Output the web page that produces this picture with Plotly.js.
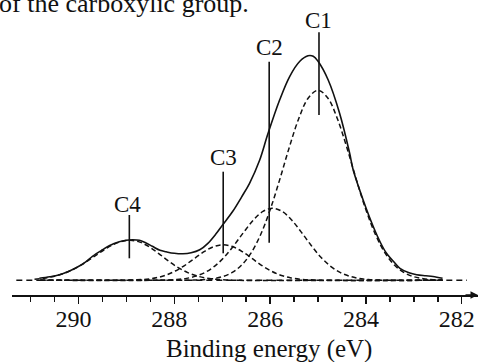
<!DOCTYPE html>
<html>
<head>
<meta charset="utf-8">
<script src="https://cdn.plot.ly/plotly-3.0.1.min.js"></script>
<style>
html,body{margin:0;padding:0;background:#fff;overflow:hidden;}
#chart{width:478px;height:362px;}
</style>
</head>
<body>
<div id="chart"></div>
<script>
// ---- data (binding energy in eV, intensity in arbitrary units) ----
const energyEnvelope = [290.82, 290.60, 290.40, 290.20, 290.05, 289.85, 289.71, 289.50, 289.36, 289.15, 289.01, 288.87, 288.73, 288.60, 288.46, 288.30, 288.17, 288.00, 287.82, 287.65, 287.47, 287.30, 287.13, 286.99, 286.78, 286.60, 286.43, 286.22, 286.05, 285.80, 285.59, 285.38, 285.21, 285.10, 285.00, 284.79, 284.55, 284.34, 284.27, 284.06, 283.85, 283.70, 283.57, 283.40, 283.29, 283.10, 282.94, 282.75, 282.60, 282.40];
const intensityEnvelope = [2, 3.5, 5.5, 9, 12.5, 18.5, 24, 30.5, 34.5, 38.5, 40, 40.5, 40, 37.5, 34, 30, 28.5, 27, 26.5, 27.5, 30.5, 37, 46.5, 55.5, 69, 83, 97, 120, 146, 180.5, 204, 219, 224.5, 224, 219, 200.5, 167, 127, 111, 80.5, 54, 38, 27, 17.5, 12, 7.5, 5.5, 4.5, 3.8, 2];

const energyC1 = [290.8, 288.0, 287.8, 287.6, 287.4, 287.2, 287.0, 286.8, 286.6, 286.4, 286.2, 286.0, 285.8, 285.6, 285.4, 285.2, 285.0, 284.8, 284.6, 284.4, 284.2, 284.0, 283.8, 283.6, 283.4, 283.2, 283.0, 282.8, 282.6, 282.4];
const intensityC1 = [0, 0, 0.1, 0.2, 0.6, 1.6, 3.6, 7.6, 15.0, 27.2, 45.6, 70.5, 100.7, 133, 162.1, 182.6, 190, 182.6, 162.1, 133, 100.7, 70.5, 45.6, 27.2, 15.0, 7.6, 3.6, 1.6, 0.6, 0.2];

const energyC2 = [290.8, 288.35, 288.15, 287.95, 287.75, 287.55, 287.35, 287.15, 286.95, 286.75, 286.55, 286.35, 286.15, 285.95, 285.75, 285.55, 285.35, 285.15, 284.95, 284.75, 284.55, 284.35, 284.15, 283.95, 283.75, 283.55, 282.4];
const intensityC2 = [0, 0, 0.3, 0.8, 1.9, 4.2, 8.1, 14.5, 23.6, 35.3, 48.2, 60.2, 68.9, 72, 68.9, 60.2, 48.2, 35.3, 23.6, 14.5, 8.1, 4.2, 1.9, 0.8, 0.3, 0, 0];

const energyC3 = [290.8, 289.18, 288.98, 288.78, 288.58, 288.38, 288.18, 287.98, 287.78, 287.58, 287.38, 287.18, 286.98, 286.78, 286.58, 286.38, 286.18, 285.98, 285.78, 285.58, 285.38, 285.18, 284.98, 284.78, 282.4];
const intensityC3 = [0, 0, 0.2, 0.5, 1.1, 2.5, 5.1, 9.3, 15.0, 21.9, 28.6, 33.6, 35.5, 33.6, 28.6, 21.9, 15.0, 9.3, 5.1, 2.5, 1.1, 0.5, 0.2, 0, 0];

const energyC4 = [290.92, 290.72, 290.52, 290.32, 290.12, 289.92, 289.72, 289.52, 289.32, 289.12, 288.92, 288.72, 288.52, 288.32, 288.12, 287.92, 287.72, 287.52, 287.32, 287.12, 286.92, 286.72, 282.4];
const intensityC4 = [1.0, 2.1, 3.9, 6.7, 10.7, 16.0, 22.3, 28.8, 34.6, 38.6, 40, 38.2, 33.3, 26.5, 19.2, 12.7, 7.7, 4.2, 2.1, 1.0, 0.4, 0, 0];

const baselineEnergy = [291.30, 281.89];
const baselineIntensity = [0, 0];

const peakNames = ['C1', 'C2', 'C3', 'C4'];
const peakEnergy = [284.98, 286.02, 286.98, 288.94];
const markerTop = [248, 218.6, 108.6, 65.3];
const markerBottom = [165.3, 37.6, 27, 22];
const labelEnergy = [285.00, 286.02, 286.97, 288.98];
const labelIntensity = [260.3, 232.8, 122.8, 76.3];

const tickValues = [290, 288, 286, 284, 282];
const tickLabels = ['290', '288', '286', '284', '282'];
const xTitle = 'Binding energy (eV)';
const topText = 'of the carboxylic group.';

// ---- styling ----
const INK = '#111111';
const SERIF = 'Liberation Serif, Tinos, Times New Roman, DejaVu Serif, Noto Serif, serif';
const dashComp = '5px,3px';

function dashed(x, y, dash) {
  return {x: x, y: y, type: 'scatter', mode: 'lines', hoverinfo: 'skip',
    line: {color: INK, width: 1.5, dash: dash, shape: 'spline', smoothing: 1}};
}

const markerX = [], markerY = [];
for (let i = 0; i < peakEnergy.length; i++) {
  markerX.push(peakEnergy[i], peakEnergy[i], null);
  markerY.push(markerBottom[i], markerTop[i], null);
}

const traces = [
  dashed(baselineEnergy, baselineIntensity, '6px,4px'),
  dashed(energyC4, intensityC4, dashComp),
  dashed(energyC3, intensityC3, dashComp),
  dashed(energyC2, intensityC2, dashComp),
  dashed(energyC1, intensityC1, dashComp),
  {x: energyEnvelope, y: intensityEnvelope, type: 'scatter', mode: 'lines', hoverinfo: 'skip',
    line: {color: INK, width: 1.6, shape: 'spline', smoothing: 1}},
  {x: markerX, y: markerY, type: 'scatter', mode: 'lines', hoverinfo: 'skip',
    line: {color: INK, width: 1.6}}
];

const annotations = peakNames.map((n, i) => ({
  x: labelEnergy[i], y: labelIntensity[i], xref: 'x', yref: 'y',
  text: n, showarrow: false, xanchor: 'center', yanchor: 'middle',
  font: {family: SERIF, size: 23, color: INK}
}));
annotations.push({
  x: 286.02, y: -0.183, xref: 'x', yref: 'paper', text: xTitle, showarrow: false,
  xanchor: 'center', yanchor: 'middle', font: {family: SERIF, size: 25, color: INK}
});
annotations.push({
  x: -0.032, y: 0.932, xref: 'paper', yref: 'paper', text: topText, showarrow: false,
  xanchor: 'left', yanchor: 'bottom', font: {family: SERIF, size: 26, color: INK}
});
annotations.push({
  x: 281.66, y: 0, xref: 'x', yref: 'paper', ax: -14, ay: 0, text: '',
  showarrow: true, arrowhead: 2, arrowsize: 1, arrowwidth: 1.5, arrowcolor: INK
});

const layout = {
  width: 478, height: 362,
  margin: {l: 12, r: 0, t: 0, b: 67},
  paper_bgcolor: '#ffffff', plot_bgcolor: '#ffffff',
  showlegend: false,
  font: {family: SERIF, color: INK},
  xaxis: {
    range: [291.39, 281.66], showline: true, linecolor: INK, linewidth: 1.5,
    ticks: 'outside', ticklen: 7, tickwidth: 1.5, tickcolor: INK,
    tickvals: tickValues, ticktext: tickLabels, ticklabelshift: 5,
    ticklabeloverflow: 'allow', ticklabelstandoff: -5,
    tickfont: {family: SERIF, size: 24, color: INK},
    showgrid: false, zeroline: false, fixedrange: true,
    minor: {dtick: 0.5, tick0: 0, ticks: 'outside', ticklen: 5, tickwidth: 1.5, tickcolor: INK, showgrid: false}
  },
  yaxis: {visible: false, range: [-14.7, 280.3], fixedrange: true, showgrid: false, zeroline: false},
  annotations: annotations
};

Plotly.newPlot('chart', traces, layout, {staticPlot: true, displayModeBar: false});
</script>
</body>
</html>
